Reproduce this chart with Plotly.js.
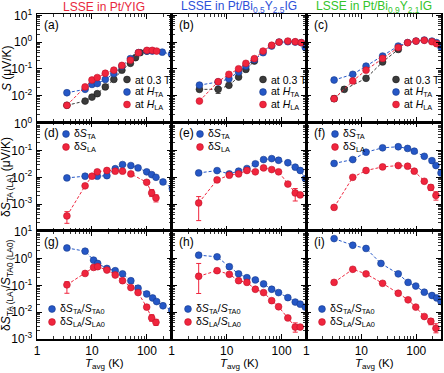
<!DOCTYPE html>
<html>
<head>
<meta charset="utf-8">
<script src="https://cdn.plot.ly/plotly-3.0.1.min.js"></script>
<style>
  body { margin: 0; background: #fff; }
  #chart { width: 444px; height: 373px; }
</style>
</head>
<body>
<div id="chart"></div>
<script>
// ---- data (T in K) ----
// (a) Pt/YIG, S (uV/K)
const aT03 = [3.5, 7.5, 10, 12.5, 17.5, 25, 35, 50, 62, 75, 100];
const aS03 = [0.0043, 0.0062, 0.0087, 0.0117, 0.021, 0.040, 0.089, 0.16, 0.26, 0.40, 0.46];
const aTTA = [3.5, 7.5, 10, 12.5, 17.5, 25, 35, 50, 70, 100, 125, 190, 280];
const aSTA = [0.0127, 0.017, 0.026, 0.028, 0.040, 0.066, 0.126, 0.24, 0.40, 0.46, 0.46, 0.42, 0.35];
const aTLA = [3.5, 7.5, 10, 12.5, 17.5, 25, 35, 50, 70, 100, 125, 150];
const aSLA = [0.0043, 0.021, 0.038, 0.047, 0.068, 0.089, 0.134, 0.21, 0.40, 0.49, 0.49, 0.46];

// (b) Pt/Bi0.5Y2.5IG
const bT03 = [3.2, 7, 11, 16.5, 22.4, 32];
const bS03 = [0.017, 0.017, 0.024, 0.049, 0.095, 0.195];
const bE03up = [0.003, 0.004, 0, 0, 0, 0];
const bE03dn = [0.003, 0.005, 0, 0, 0, 0];
const bTTA = [3.2, 7, 11, 16.5, 22.4, 32, 46, 66, 90, 130, 177, 228, 270];
const bSTA = [0.0245, 0.032, 0.042, 0.076, 0.126, 0.22, 0.40, 0.71, 1.0, 1.03, 1.0, 0.95, 0.62];
const bTLA = [3.2, 7, 11, 16.5, 22.4, 32, 46, 66, 90, 130, 177, 228];
const bSLA = [0.0062, 0.033, 0.062, 0.10, 0.16, 0.24, 0.46, 0.76, 1.0, 1.09, 1.03, 0.95];

// (c) Pt/Bi0.9Y2.1IG
const cT03 = [3.2, 4.9, 12.2, 24.4, 47];
const cS03 = [0.0076, 0.017, 0.044, 0.18, 0.53];
const cE03up = [0.002, 0.004, 0, 0, 0];
const cE03dn = [0.0015, 0.003, 0, 0, 0];
const cTTA = [3.2, 7, 12.2, 24.4, 47, 69.5, 99, 140, 193, 234, 282];
const cSTA = [0.038, 0.062, 0.126, 0.30, 0.71, 0.95, 1.09, 1.19, 1.09, 0.95, 0.65];
const cTLA = [3.2, 7, 12.2, 24.4, 47, 69.5, 99, 140, 193, 234];
const cSLA = [0.0076, 0.035, 0.089, 0.245, 0.62, 0.95, 1.09, 1.16, 1.03, 0.87];

// (d)-(f) dS (uV/K)
const dTTA = [3.5, 7.5, 12.5, 18.7, 26.5, 36, 51, 69, 99, 122, 146, 196, 290];
const dSTA = [0.0095, 0.011, 0.011, 0.0115, 0.021, 0.030, 0.0275, 0.0225, 0.016, 0.0126, 0.010, 0.0067, 0.0038];
const dTLA = [3.5, 7.5, 10, 12.5, 18.7, 26.5, 36, 51, 99, 122, 146];
const dSLA = [0.00036, 0.0048, 0.011, 0.016, 0.018, 0.017, 0.017, 0.0134, 0.0065, 0.0026, 0.0017];
const dELAup = [0.00016, 0, 0, 0, 0, 0, 0, 0, 0.001, 0.0009, 0.0005];
const dELAdn = [0.00017, 0, 0, 0, 0, 0, 0, 0, 0.001, 0.0007, 0.0005];

const eTTA = [3.1, 6.7, 11.2, 16.5, 23.4, 33.3, 47, 66, 88, 130, 177, 218, 270];
const eSTA = [0.0146, 0.0178, 0.0134, 0.017, 0.0213, 0.032, 0.046, 0.050, 0.0435, 0.035, 0.024, 0.018, 0.0089];
const eTLA = [3.1, 6.7, 11.2, 16.5, 23.4, 33.3, 47, 66, 88, 130, 177, 218];
const eSLA = [0.0011, 0.008, 0.012, 0.0134, 0.018, 0.016, 0.0225, 0.0195, 0.016, 0.0056, 0.0026, 0.0022];
const eELAup = [0.0008, 0, 0, 0, 0, 0, 0, 0, 0, 0, 0.0012, 0];
const eELAdn = [0.00086, 0, 0, 0, 0, 0, 0, 0, 0, 0, 0.0013, 0];

const fTTA = [3.2, 7, 12.2, 24.4, 47, 69.5, 92, 140, 193, 228, 282];
const fSTA = [0.033, 0.046, 0.087, 0.127, 0.139, 0.12, 0.095, 0.061, 0.042, 0.0275, 0.0146];
const fTLA = [3.2, 7, 12.2, 24.4, 47, 69.5, 92, 140, 184, 228];
const fSLA = [0.00075, 0.010, 0.018, 0.0245, 0.0275, 0.026, 0.017, 0.0071, 0.0042, 0.0021];
const fELAup = [0.00012, 0, 0, 0, 0, 0, 0, 0.001, 0.001, 0.0008];
const fELAdn = [0.00012, 0, 0, 0, 0, 0, 0, 0.001, 0.001, 0.0007];

// (g)-(i) dS/S0
const gTTA = [3.5, 7.5, 10.7, 12.7, 18.7, 26.5, 36, 51, 69, 99, 127, 150, 196, 283];
const gRTA = [2.5, 1.9, 0.88, 0.66, 0.43, 0.355, 0.27, 0.15, 0.079, 0.048, 0.034, 0.025, 0.0174, 0.0117];
const gTLA = [3.5, 7.5, 10.7, 12.7, 18.7, 26.5, 36, 51, 69, 99, 122, 146];
const gRLA = [0.105, 0.28, 0.47, 0.50, 0.375, 0.245, 0.15, 0.083, 0.054, 0.0155, 0.0061, 0.0042];
const gELAup = [0.033, 0, 0, 0, 0, 0, 0, 0, 0, 0.003, 0.002, 0.0012];
const gELAdn = [0.054, 0, 0, 0, 0, 0, 0, 0, 0, 0.003, 0.0015, 0.001];

const hTTA = [3.1, 6.7, 11.2, 16.5, 23.4, 33.3, 47, 66, 88, 130, 177, 218, 270];
const hRTA = [1.35, 1.17, 0.50, 0.27, 0.195, 0.16, 0.114, 0.072, 0.054, 0.035, 0.024, 0.020, 0.0155];
const hTLA = [3.1, 6.7, 11.2, 16.5, 23.4, 33.3, 47, 66, 88, 130, 177, 218];
const hRLA = [0.22, 0.355, 0.26, 0.15, 0.13, 0.072, 0.054, 0.027, 0.016, 0.0061, 0.0028, 0.0028];
const hELAup = [0.44, 0, 0, 0, 0, 0, 0, 0, 0, 0, 0.0012, 0];
const hELAdn = [0.17, 0, 0, 0, 0, 0, 0, 0, 0, 0, 0.001, 0];

const iTTA = [3.2, 7, 12.2, 22.8, 47, 71, 98, 140, 193, 236, 282];
const iRTA = [5.6, 3.16, 2.4, 0.66, 0.27, 0.13, 0.095, 0.056, 0.042, 0.034, 0.025];
const iTLA = [3.2, 7, 12.2, 24.4, 47, 71, 98, 140, 184, 228];
const iRLA = [0.13, 0.40, 0.27, 0.12, 0.051, 0.029, 0.0155, 0.0069, 0.0046, 0.0025];
const iELAup = [0.02, 0, 0, 0, 0, 0, 0, 0, 0.0012, 0.0012];
const iELAdn = [0.02, 0, 0, 0, 0, 0, 0, 0, 0.0012, 0.0008];

// tick labels
const xTickVals = [1, 10, 100];
const xTickText = ['1', '10', '100'];
const yTickVals = [[1e-3, 1e-2, 1e-1, 1, 10], [1e-4, 1e-3, 1e-2, 1e-1, 1], [1e-3, 1e-2, 1e-1, 1, 10]];
const yTickText = [
  ['', '10<sup>-2</sup>', '10<sup>-1</sup>', '10<sup>0</sup>', '10<sup>1</sup>'],
  ['', '10<sup>-3</sup>', '10<sup>-2</sup>', '10<sup>-1</sup>', '10<sup>0</sup>'],
  ['10<sup>-3</sup>', '10<sup>-2</sup>', '10<sup>-1</sup>', '10<sup>0</sup>', '10<sup>1</sup>']
];

const columnTitles = ['LSSE in Pt/YIG', 'LSSE in Pt/Bi<sub>0.5</sub>Y<sub>2.5</sub>IG', 'LSSE in Pt/Bi<sub>0.9</sub>Y<sub>2.1</sub>IG'];
const panelLetters = ['(a)', '(b)', '(c)', '(d)', '(e)', '(f)', '(g)', '(h)', '(i)'];

const BLACK = '#3b3b3b', BLUE = '#2557c6', RED = '#f0253d';
const EDGE = {};
EDGE[BLACK] = '#1a1a1a'; EDGE[BLUE] = '#173a8c'; EDGE[RED] = '#c0122a';
const FONT = 'Liberation Sans, Arial, sans-serif';

const lab03 = 'at 0.3 T', labTA = 'at <i>H</i><sub>TA</sub>', labLA = 'at <i>H</i><sub>LA</sub>';
const labdTA = 'δ<i>S</i><sub>TA</sub>', labdLA = 'δ<i>S</i><sub>LA</sub>';
const labrTA = 'δ<i>S</i><sub>TA</sub>/<i>S</i><sub>TA0</sub>', labrLA = 'δ<i>S</i><sub>LA</sub>/<i>S</i><sub>LA0</sub>';

let traces = [];
let keys = {};   // legend entries per panel

function series(k, xs, ys, color, name, up, dn) {
  let id = k === 1 ? '' : String(k);
  traces.push({
    x: xs, y: ys, xaxis: 'x' + id, yaxis: 'y' + id,
    mode: 'lines', line: {color: color, width: 1, dash: '3px,2px'},
    showlegend: false, hoverinfo: 'skip'
  });
  traces.push({
    x: xs, y: ys, xaxis: 'x' + id, yaxis: 'y' + id,
    mode: 'markers', name: name,
    marker: {color: color, size: 6.8, line: {color: EDGE[color], width: 0.6}},
    error_y: up ? {type: 'data', symmetric: false, array: up, arrayminus: dn, color: color, thickness: 1, width: 2.5} : {visible: false},
    showlegend: false
  });
  if (!keys[k]) keys[k] = [];
  keys[k].push({name: name, color: color});
}

series(1, aT03, aS03, BLACK, lab03);
series(1, aTTA, aSTA, BLUE, labTA);
series(1, aTLA, aSLA, RED, labLA);
series(2, bT03, bS03, BLACK, lab03, bE03up, bE03dn);
series(2, bTTA, bSTA, BLUE, labTA);
series(2, bTLA, bSLA, RED, labLA);
series(3, cT03, cS03, BLACK, lab03, cE03up, cE03dn);
series(3, cTTA, cSTA, BLUE, labTA);
series(3, cTLA, cSLA, RED, labLA);
series(4, dTTA, dSTA, BLUE, labdTA);
series(4, dTLA, dSLA, RED, labdLA, dELAup, dELAdn);
series(5, eTTA, eSTA, BLUE, labdTA);
series(5, eTLA, eSLA, RED, labdLA, eELAup, eELAdn);
series(6, fTTA, fSTA, BLUE, labdTA);
series(6, fTLA, fSLA, RED, labdLA, fELAup, fELAdn);
series(7, gTTA, gRTA, BLUE, labrTA);
series(7, gTLA, gRLA, RED, labrLA, gELAup, gELAdn);
series(8, hTTA, hRTA, BLUE, labrTA);
series(8, hTLA, hRLA, RED, labrLA, hELAup, hELAdn);
series(9, iTTA, iRTA, BLUE, labrTA);
series(9, iTLA, iRLA, RED, labrLA, iELAup, iELAdn);

// ---- layout ----
const W = 444, H = 373;
const M = {l: 37, r: 3, t: 14, b: 34};
const PW = W - M.l - M.r, PH = H - M.t - M.b;
const colDomains = [[0, 1 / 3], [1 / 3, 2 / 3], [2 / 3, 1]];
const rowDomains = [[0.667, 1], [0.333, 0.667], [0, 0.333]];
const yRanges = [[-3, 1.05], [-4, 0.06], [-3, 1.04]];

function px2x(px) { return (px - M.l) / PW; }
function py2y(py) { return 1 - (py - M.t) / PH; }

let layout = {
  width: W, height: H,
  margin: M,
  paper_bgcolor: '#fff', plot_bgcolor: '#fff',
  font: {family: FONT, size: 12, color: '#000'},
  showlegend: false,
  annotations: [],
  shapes: []
};

const axisStyle = {
  type: 'log', showline: true, linecolor: '#000', linewidth: 1.5, mirror: 'ticks',
  ticks: 'inside', ticklen: 5, tickwidth: 1, tickcolor: '#000',
  showgrid: false, zeroline: false, tickmode: 'array',
  tickfont: {family: FONT, size: 12, color: '#000'},
  minor: {ticks: 'inside', ticklen: 3, tickwidth: 0.8, tickcolor: '#000', dtick: 'D1', showgrid: false}
};

for (let k = 1; k <= 9; k++) {
  let row = Math.floor((k - 1) / 3), col = (k - 1) % 3;
  let id = k === 1 ? '' : String(k);
  layout['xaxis' + id] = Object.assign({}, axisStyle, {
    domain: colDomains[col], anchor: 'y' + id, range: [0, 2.45],
    tickvals: xTickVals, ticktext: row === 2 ? xTickText : ['', '', ''], ticklabelstandoff: 0
  });
  layout['yaxis' + id] = Object.assign({}, axisStyle, {
    domain: rowDomains[row], anchor: 'x' + id, range: yRanges[row],
    tickvals: yTickVals[row], ticktext: col === 0 ? yTickText[row] : ['', '', '', '', ''], ticklabelstandoff: 1
  });
  layout.annotations.push({
    text: panelLetters[k - 1], xref: 'x' + id + ' domain', yref: 'y' + id + ' domain',
    x: 0.04, y: 0.98, xanchor: 'left', yanchor: 'top', showarrow: false,
    font: {family: FONT, size: 12}
  });
}

// legend keys: marker centre x and first row y (pixels), row step
const keyPos = {
  1: [127, 79.5, 12.5], 2: [263, 79.5, 12.5], 3: [396, 79.5, 12.5],
  4: [66, 134, 13], 5: [200, 134, 13], 6: [335, 134, 13],
  7: [52, 309, 13], 8: [188, 309, 13], 9: [322, 309, 13]
};
for (let k in keys) {
  let p = keyPos[k];
  keys[k].forEach(function (item, j) {
    let cx = px2x(p[0]), cy = py2y(p[1] + j * p[2]);
    layout.shapes.push({
      type: 'circle', xref: 'paper', yref: 'paper', xsizemode: 'pixel', ysizemode: 'pixel',
      xanchor: cx, yanchor: cy, x0: -3.4, x1: 3.4, y0: -3.4, y1: 3.4,
      fillcolor: item.color, line: {color: EDGE[item.color], width: 0.6}
    });
    layout.annotations.push({
      text: item.name, xref: 'paper', yref: 'paper', x: px2x(p[0] + 6.5), y: cy,
      xanchor: 'left', yanchor: 'middle', showarrow: false, borderpad: 0,
      font: {family: FONT, size: 10.5, color: '#000'}
    });
  });
}

// titles
const titleColors = ['#e8283c', '#2c50d8', '#33c42a'];
const colCenters = [104, 239, 374];
for (let c = 0; c < 3; c++) {
  layout.annotations.push({
    text: columnTitles[c], xref: 'paper', yref: 'paper', x: px2x(colCenters[c]), y: py2y(7),
    xanchor: 'center', yanchor: 'middle', showarrow: false, font: {family: FONT, size: 12, color: titleColors[c]}
  });
  layout.annotations.push({
    text: '<i>T</i><sub>avg</sub> (K)', xref: 'paper', yref: 'paper', x: px2x(colCenters[c]), y: py2y(364.5),
    xanchor: 'center', yanchor: 'middle', showarrow: false, borderpad: 0, font: {family: FONT, size: 11.5}
  });
}
const yTitles = ['<i>S</i> (μV/K)', 'δ<i>S</i><sub>TA (LA)</sub> (μV/K)', 'δ<i>S</i><sub>TA (LA)</sub>/<i>S</i><sub>TA0 (LA0)</sub>'];
const yTitleCenters = [68, 177, 285];
for (let r = 0; r < 3; r++) {
  layout.annotations.push({
    text: yTitles[r], xref: 'paper', yref: 'paper', x: px2x(7), y: py2y(yTitleCenters[r]),
    xanchor: 'center', yanchor: 'middle', textangle: -90, showarrow: false, font: {family: FONT, size: 12}
  });
}

Plotly.newPlot('chart', traces, layout, {displayModeBar: false, staticPlot: true});
</script>
</body>
</html>
